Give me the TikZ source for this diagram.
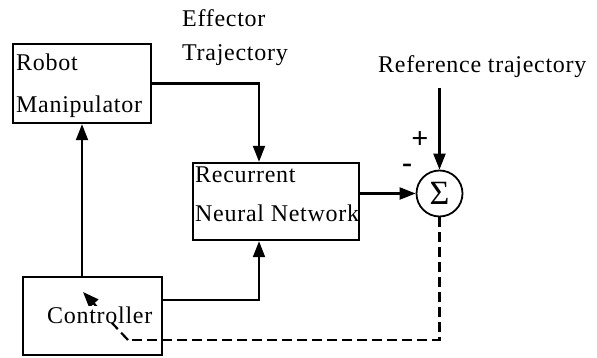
\documentclass[tikz,border=0pt]{standalone}
\usepackage{fontspec}
\setmainfont{Liberation Serif}[LetterSpace=3]
\usetikzlibrary{arrows.meta}
\begin{document}
\begin{tikzpicture}[x=1pt,y=-1pt,
  box/.style={draw, line width=2.4pt, inner sep=0pt},
  lbl/.style={inner sep=0pt, anchor=base west, font=\fontsize{24}{28}\selectfont},
  conn/.style={line width=2.2pt},
  tip/.style={-{Triangle[length=16pt,width=12pt]}},
  arr/.style={conn, tip},
  sign/.style={inner sep=0pt, font=\fontsize{30}{30}\selectfont\bfseries},
  dsh/.style={line width=2.2pt, dash pattern=on 10pt off 5pt}]
\useasboundingbox (0,0) rectangle (597,358);
% boxes
\node[box, minimum width=138pt, minimum height=79pt] (robot) at (82,83.5) {};
\node[box, minimum width=166pt, minimum height=77pt] (rnn) at (276,201.5) {};
\node[box, minimum width=139pt, minimum height=78pt] (ctrl) at (92.5,316) {};
\node[draw, circle, line width=1.8pt, minimum size=46pt, inner sep=0pt,
      font=\fontsize{34}{36}\selectfont] (sum) at (439.5,193.5) {Σ};
% labels
\node[lbl] (t1) at (16,71) {Robot};
\node[lbl] (t2) at (16,113) {Manipulator};
\node[lbl] (t3) at (182,27) {Effector};
\node[lbl] (t4) at (182,61) {Trajectory};
\node[lbl] (t5) at (378,73) {Reference trajectory};
\node[lbl] (t6) at (195,183) {Recurrent};
\node[lbl] (t7) at (195,222) {Neural Network};
\node[sign] (plus) at (420,140) {+};
\node[sign] (minus) at (407,168) {-};
% connectors
\coordinate (refstart) at (439.5,88);
\coordinate (dcorner) at (128,340);
\coordinate (dtip) at (83,292);
\draw[arr] (ctrl.north -| robot.south) -- (robot.south);
\draw[arr] (robot.east) -| ([xshift=-17pt]rnn.north);
\draw[arr] ([yshift=16pt]ctrl.east) -| ([xshift=-17pt]rnn.south);
\draw[arr] (sum.west -| rnn.east) -- (sum.west);
\draw[arr] (refstart) -- (sum.north);
\draw[dsh] (sum.south) |- (dcorner);
\draw[dsh, tip] (dcorner) -- (dtip);
\node[lbl, fill=white] (t8) at (47,323) {Controller};
\end{tikzpicture}
\end{document}
